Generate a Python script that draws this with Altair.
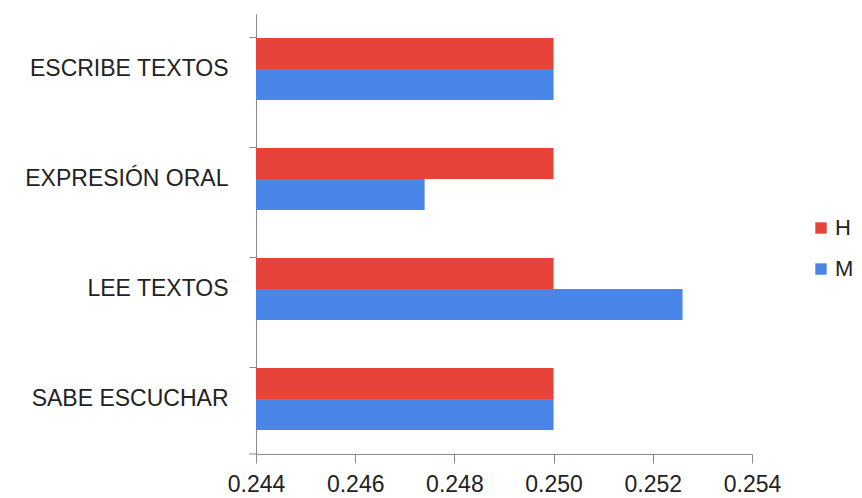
import altair as alt
import pandas as pd

categories = ["ESCRIBE TEXTOS", "EXPRESIÓN ORAL", "LEE TEXTOS", "SABE ESCUCHAR"]
series = ["H", "M"]
h_values = [0.25, 0.25, 0.25, 0.25]
m_values = [0.25, 0.2474, 0.2526, 0.25]
x_ticks = [0.244, 0.246, 0.248, 0.250, 0.252, 0.254]
colors = ["#E8433A", "#4A86E8"]

rows = []
for c, h, m in zip(categories, h_values, m_values):
    rows.append({"cat": c, "serie": "H", "valor": h})
    rows.append({"cat": c, "serie": "M", "valor": m})
df = pd.DataFrame(rows)

FONT = "Liberation Sans"

bars = alt.Chart(df).mark_bar(clip=True).encode(
    x=alt.X("valor:Q",
            scale=alt.Scale(domain=[x_ticks[0], x_ticks[-1]], zero=False, nice=False),
            axis=alt.Axis(values=x_ticks, format=".3f", title=None, grid=False,
                          tickSize=9, labelPadding=10, labelFontSize=23,
                          labelFont=FONT, labelColor="#222222",
                          domainColor="#8a8a8a", tickColor="#8a8a8a",
                          labelFlush=False)),
    y=alt.Y("cat:N", sort=categories,
            scale=alt.Scale(paddingInner=0.436, paddingOuter=0.218),
            axis=alt.Axis(title=None, bandPosition=0, tickSize=7, labelPadding=21,
                          labelFontSize=23, labelFont=FONT, labelColor="#222222",
                          labelLimit=400,
                          domainColor="#8a8a8a", tickColor="#8a8a8a", grid=False)),
    yOffset=alt.YOffset("serie:N", sort=series, scale=alt.Scale(paddingInner=0, paddingOuter=0)),
    color=alt.Color("serie:N", sort=series,
                    scale=alt.Scale(domain=series, range=colors),
                    legend=alt.Legend(title=None, orient="none", legendX=554, legendY=203,
                                      symbolType="square", symbolSize=130,
                                      symbolStrokeWidth=0, labelFontSize=22,
                                      labelFont=FONT, labelColor="#222222",
                                      labelOffset=3, rowPadding=19, padding=0)),
)

corner_tick = alt.Chart(pd.DataFrame({"a": [0]})).mark_rule(color="#8a8a8a").encode(
    x=alt.value(-7), x2=alt.value(0), y=alt.value(440)
)

chart = alt.layer(bars, corner_tick).properties(
    width=496, height=440,
    autosize=alt.AutoSizeParams(type="none"),
    padding={"left": 248, "top": 6, "right": 102, "bottom": 44},
).configure(background="white").configure_view(stroke=None)

chart.save("out.html", embed_options={"renderer": "svg", "actions": False})
